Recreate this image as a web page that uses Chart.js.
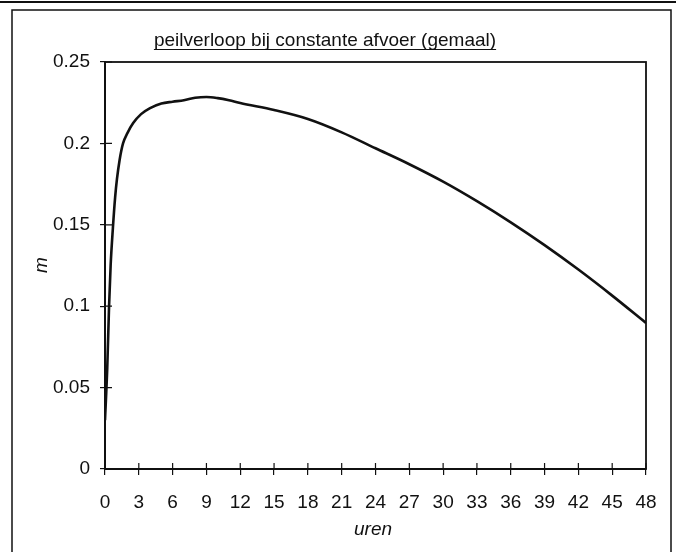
<!DOCTYPE html>
<html>
<head>
<meta charset="utf-8">
<script src="https://cdn.jsdelivr.net/npm/chart.js@4/dist/chart.umd.min.js"></script>
<style>
  html, body { margin: 0; padding: 0; background: #fff; }
  #wrap { width: 676px; height: 552px; }
</style>
</head>
<body>
<div id="wrap"><canvas id="chart" width="676" height="552"></canvas></div>
<script>
// peilverloop
const titleText = 'peilverloop bij constante afvoer (gemaal)';
const xTitle = 'uren';
const yTitle = 'm';
const hours = [0, 0.2, 0.36, 0.5, 0.7, 0.9, 1.06, 1.3, 1.6, 2, 2.5, 3.2, 4, 5, 6, 7, 8, 9, 10, 11, 12, 15, 18, 21, 24, 27, 30, 33, 36, 39, 42, 45, 48];
const level = [0.03, 0.062, 0.1, 0.125, 0.148, 0.167, 0.178, 0.19, 0.2, 0.2065, 0.2125, 0.218, 0.2217, 0.2245, 0.2256, 0.2265, 0.228, 0.2285, 0.2278, 0.2265, 0.2248, 0.2205, 0.215, 0.2068, 0.197, 0.1872, 0.1765, 0.1645, 0.1515, 0.1375, 0.1225, 0.1065, 0.0897];
const xTicks = [0, 3, 6, 9, 12, 15, 18, 21, 24, 27, 30, 33, 36, 39, 42, 45, 48];
const yTicks = [0, 0.05, 0.1, 0.15, 0.2, 0.25];

const FONT = '"Liberation Sans", Arial, sans-serif';

// frame, inside ticks and hand-placed titles
const decor = {
  id: 'decor',
  afterDraw(c) {
    const ctx = c.ctx, a = c.chartArea;
    const xs = c.scales.x, ys = c.scales.y;
    ctx.save();
    ctx.strokeStyle = '#111';
    // scanned page edge + outer frame
    ctx.lineWidth = 2;
    ctx.beginPath();
    ctx.moveTo(0, 2); ctx.lineTo(676, 2);
    ctx.stroke();
    ctx.lineWidth = 1.5;
    ctx.beginPath();
    ctx.moveTo(12, 560); ctx.lineTo(12, 10); ctx.lineTo(671, 10); ctx.lineTo(671, 560);
    ctx.stroke();
    // plot box
    ctx.lineWidth = 1.8;
    ctx.strokeRect(a.left, a.top, a.right - a.left, a.bottom - a.top);
    // ticks crossing into the plot
    ctx.lineWidth = 1.2;
    ctx.beginPath();
    xTicks.forEach(v => {
      const px = xs.getPixelForValue(v);
      ctx.moveTo(px, a.bottom); ctx.lineTo(px, a.bottom - 6);
    });
    yTicks.forEach(v => {
      const py = ys.getPixelForValue(v);
      ctx.moveTo(a.left, py); ctx.lineTo(a.left + 7, py);
    });
    ctx.stroke();
    // title, underlined
    ctx.fillStyle = '#111';
    ctx.font = '19px ' + FONT;
    ctx.textAlign = 'center';
    ctx.textBaseline = 'alphabetic';
    ctx.fillText(titleText, 325, 46);
    const w = ctx.measureText(titleText).width;
    ctx.lineWidth = 1.2;
    ctx.beginPath();
    ctx.moveTo(325 - w / 2, 49.5); ctx.lineTo(325 + w / 2, 49.5);
    ctx.stroke();
    // axis titles
    ctx.font = 'italic 19px ' + FONT;
    ctx.textBaseline = 'middle';
    ctx.fillText(xTitle, 373, 530);
    ctx.translate(42, 265);
    ctx.rotate(-Math.PI / 2);
    ctx.fillText(yTitle, 0, 0);
    ctx.restore();
  }
};

new Chart(document.getElementById('chart'), {
  type: 'line',
  data: {
    datasets: [{
      data: hours.map((h, i) => ({ x: h, y: level[i] })),
      borderColor: '#111',
      borderWidth: 2.6,
      pointRadius: 0,
      cubicInterpolationMode: 'monotone',
      fill: false
    }]
  },
  options: {
    responsive: false,
    animation: false,
    layout: { padding: { top: 62, right: 30, bottom: 0, left: 0 } },
    plugins: { legend: { display: false }, title: { display: false }, tooltip: { enabled: false } },
    scales: {
      x: {
        type: 'linear',
        min: 0, max: 48,
        afterFit: s => { s.height = 83; },
        afterBuildTicks: s => { s.ticks = xTicks.map(v => ({ value: v })); },
        grid: { drawOnChartArea: false, tickLength: 6, color: '#111', lineWidth: 1.2 },
        border: { color: '#111', width: 2 },
        ticks: { color: '#111', font: { family: FONT, size: 19 }, padding: 16, maxRotation: 0, autoSkip: false }
      },
      y: {
        min: 0, max: 0.25,
        afterFit: s => { s.width = 105; },
        afterBuildTicks: s => { s.ticks = yTicks.map(v => ({ value: v })); },
        grid: { drawOnChartArea: false, tickLength: 5, color: '#111', lineWidth: 1.2 },
        border: { color: '#111', width: 2 },
        ticks: {
          color: '#111', font: { family: FONT, size: 19 }, padding: 10,
          callback: v => String(+v.toFixed(2))
        }
      }
    }
  },
  plugins: [decor]
});
</script>
</body>
</html>
